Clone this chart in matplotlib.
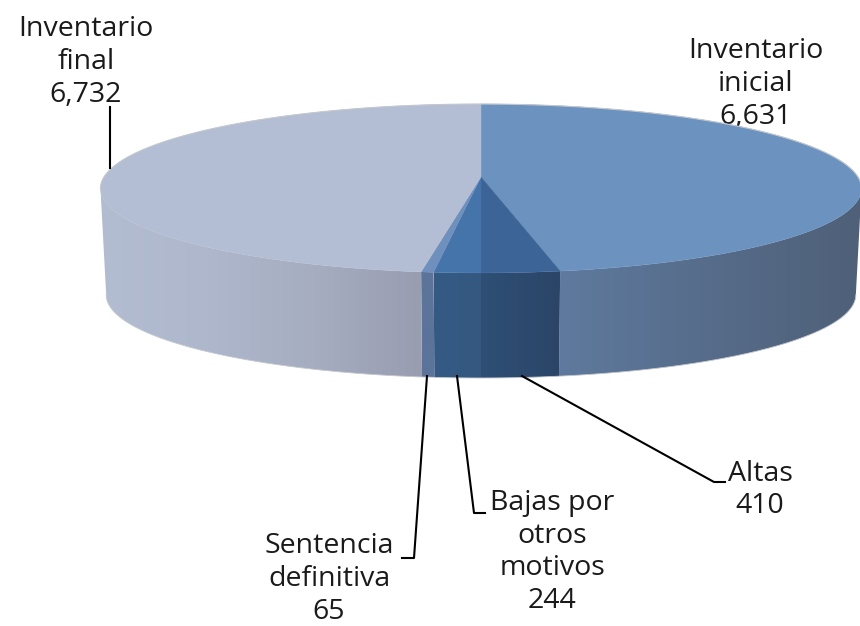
import numpy as np
import matplotlib
matplotlib.use('Agg')
import matplotlib.pyplot as plt
from matplotlib.colors import LinearSegmentedColormap
from matplotlib.patches import Polygon

labels = ['Inventario\ninicial', 'Altas', 'Bajas por\notros\nmotivos', 'Sentencia\ndefinitiva', 'Inventario\nfinal']
values = [6631, 410, 244, 65, 6732]

top_colors = ['#6C93BF', '#3C6497', '#4474AA', '#6F8FBC', '#B3BDD3']
side_colors = [['#5F7A9E', '#566C8A', '#4F6078'],
               ['#2F4F76', '#2B4567'],
               ['#355B85', '#34587F'],
               ['#5C749A', '#5C749A'],
               ['#B3BDD2', '#AEB7CC', '#A6ADC1', '#989DB0']]

text_pos = [(756, 84), (760, 490), (552, 552), (329, 579), (86, 62)]
leaders = [None,
           [(522, 376), (714, 482), (725, 482)],
           [(457, 376), (474, 513), (485, 513)],
           [(427, 376), (414, 558), (402, 558)],
           [(110, 168), (110, 107)]]

plt.rcParams['font.family'] = ['Open Sans', 'DejaVu Sans']

fig = plt.figure(figsize=(8.6, 6.26), dpi=100)
ax = fig.add_axes([0, 0, 1, 1])
ax.set_xlim(0, 860)
ax.set_ylim(626, 0)
ax.axis('off')

K = 0.136


# perspectiva: la parte de atras se ve mas chica
def project(theta, scale=1.0, cy=177):
    u, v = np.sin(theta), np.cos(theta)
    d = 1 + K * v
    return 481 + 377 * scale * u / d, cy - 82.9 * scale * v / d


edges = np.radians(np.concatenate([[0], np.cumsum(values)]) / sum(values) * 360)
widest = np.arccos(-K)

# costados
for i in range(len(values)):
    a, b = max(edges[i], widest), min(edges[i + 1], 2 * np.pi - widest)
    if a >= b:
        continue
    t = np.linspace(a, b, 200)
    x1, y1 = project(t)
    x2, y2 = project(t, 0.985, 283.5)
    pts = np.column_stack([np.r_[x1, x2[::-1]], np.r_[y1, y2[::-1]]])
    patch = Polygon(pts, closed=True, fc='none', ec='none', zorder=2)
    ax.add_patch(patch)
    cmap = LinearSegmentedColormap.from_list('side', side_colors[i])
    grad = np.linspace(0, 1, 256).reshape(1, -1)
    im = ax.imshow(grad, cmap=cmap, aspect='auto', zorder=2, interpolation='bilinear',
                   extent=[pts[:, 0].min(), pts[:, 0].max(), pts[:, 1].max(), pts[:, 1].min()])
    im.set_clip_path(patch)
ax.set_xlim(0, 860)
ax.set_ylim(626, 0)

# cara de arriba
for i in range(len(values)):
    t = np.linspace(edges[i], edges[i + 1], 300)
    x, y = project(t)
    pts = np.column_stack([np.r_[481, x], np.r_[177, y]])
    ax.add_patch(Polygon(pts, closed=True, fc=top_colors[i], ec=top_colors[i], lw=0.3, zorder=3))

# borde claro atras y abajo
t = np.linspace(-widest, widest, 300)
ax.plot(*project(t), color='#C4C8CE', lw=0.8, zorder=3.5)
t = np.linspace(widest, 2 * np.pi - widest, 300)
ax.plot(*project(t, 0.985, 283.5), color='#C4C8CE', lw=0.6, zorder=3.5)

for i in range(len(values)):
    txt = labels[i] + '\n' + format(values[i], ',')
    ax.text(text_pos[i][0], text_pos[i][1], txt, ha='center', va='center', fontsize=20.5,
            color='#1a1a1a', linespacing=1.23, zorder=1)
    if leaders[i]:
        ax.plot(*zip(*leaders[i]), color='black', lw=1.5, zorder=4, solid_joinstyle='round')

fig.savefig('out.png', dpi=100)
